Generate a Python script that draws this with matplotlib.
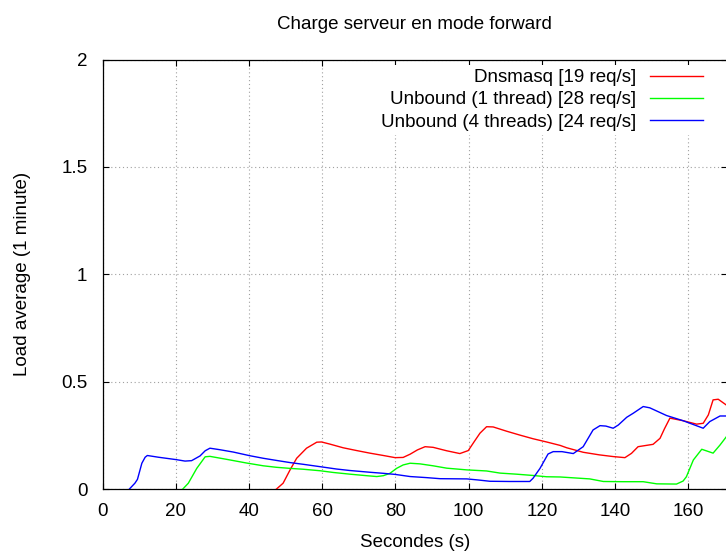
import matplotlib
matplotlib.use("Agg")
import matplotlib.pyplot as plt

plt.rcParams['font.family'] = ['Liberation Sans', 'DejaVu Sans']

# Dnsmasq [19 req/s]
dns_x = [47.5, 49.3, 51.2, 53.0, 55.7, 58.5, 59.8, 62.1, 65.7, 69.4, 73.0, 76.7, 79.9, 82.1, 84.0,
         86.0, 88.1, 90.3, 94.0, 97.6, 99.9, 101.5, 103.1, 104.9, 106.7, 110.4, 114.0, 117.6, 121.3,
         125.0, 126.8, 131.3, 135.7, 139.5, 142.7, 144.5, 146.3, 150.4, 152.3, 153.5, 155.0, 158.6,
         162.3, 164.1, 165.5, 166.8, 168.2, 170.5]
dns_y = [0.0, 0.027, 0.089, 0.143, 0.19, 0.218, 0.219, 0.209, 0.192, 0.179, 0.167, 0.156, 0.146, 0.147,
         0.162, 0.182, 0.197, 0.194, 0.178, 0.165, 0.179, 0.22, 0.26, 0.29, 0.289, 0.269, 0.251, 0.234,
         0.219, 0.203, 0.192, 0.171, 0.159, 0.151, 0.146, 0.166, 0.197, 0.208, 0.236, 0.28, 0.33, 0.318,
         0.302, 0.306, 0.345, 0.415, 0.418, 0.39]

# Unbound (1 thread) [28 req/s]
ub1_x = [21.9, 23.4, 25.7, 28.0, 29.3, 33.9, 39.3, 43.9, 47.5, 51.2, 54.8, 59.4, 63.0, 67.6, 72.1,
         74.9, 76.7, 78.5, 80.3, 82.1, 84.0, 86.7, 90.3, 94.0, 99.5, 104.9, 108.6, 113.1, 117.6, 121.3,
         125.0, 127.7, 133.1, 136.8, 142.2, 147.7, 151.4, 156.8, 158.6, 159.5, 161.4, 163.7, 166.8,
         168.7, 170.5]
ub1_y = [0.0, 0.027, 0.096, 0.15, 0.152, 0.138, 0.121, 0.108, 0.101, 0.096, 0.092, 0.085, 0.077, 0.069,
         0.062, 0.058, 0.062, 0.073, 0.096, 0.112, 0.12, 0.117, 0.108, 0.097, 0.089, 0.084, 0.074, 0.069,
         0.063, 0.057, 0.056, 0.053, 0.047, 0.035, 0.034, 0.034, 0.024, 0.023, 0.037, 0.057, 0.135,
         0.185, 0.167, 0.205, 0.245]

# Unbound (4 threads) [24 req/s]
ub4_x = [7.3, 8.8, 9.5, 10.7, 11.6, 12.2, 15.2, 20.0, 22.5, 24.3, 26.6, 28.0, 29.3, 32.0, 35.7, 40.2,
         43.9, 47.5, 51.2, 54.8, 59.8, 63.9, 67.6, 73.0, 76.7, 79.9, 84.0, 88.5, 92.2, 99.5, 102.6,
         105.8, 111.2, 116.7, 117.6, 119.5, 121.7, 123.1, 125.5, 128.6, 131.3, 134.0, 135.9, 137.5,
         139.5, 140.9, 143.2, 145.0, 147.7, 149.5, 154.1, 158.6, 164.1, 165.9, 168.7, 170.5]
ub4_y = [0.0, 0.027, 0.045, 0.12, 0.148, 0.156, 0.148, 0.137, 0.13, 0.132, 0.154, 0.178, 0.19, 0.183,
         0.172, 0.155, 0.143, 0.133, 0.123, 0.115, 0.103, 0.093, 0.086, 0.078, 0.073, 0.068, 0.058,
         0.053, 0.048, 0.047, 0.042, 0.036, 0.035, 0.035, 0.05, 0.096, 0.163, 0.174, 0.174, 0.165,
         0.197, 0.275, 0.295, 0.293, 0.283, 0.298, 0.334, 0.353, 0.384, 0.378, 0.342, 0.318, 0.283,
         0.314, 0.34, 0.34]

x_ticks = [0, 20, 40, 60, 80, 100, 120, 140, 160]
y_ticks = [0, 0.5, 1, 1.5, 2]
y_tick_labels = ['0', '0.5', '1', '1.5', '2']

FS = 13.5
W, H = 726, 553
fig = plt.figure(figsize=(W / 100, H / 100), dpi=100)
ax = fig.add_axes([102.7 / W, 1 - 489 / H, (727 - 102.7) / W, (489 - 59.5) / H])

ax.plot(dns_x, dns_y, color='#ff0000', lw=1, label='Dnsmasq [19 req/s]', zorder=3)
ax.plot(ub1_x, ub1_y, color='#00ff00', lw=1, label='Unbound (1 thread) [28 req/s]', zorder=3)
ax.plot(ub4_x, ub4_y, color='#0000ff', lw=1, label='Unbound (4 threads) [24 req/s]', zorder=3)

ax.set_xlim(0, 170.6)
ax.set_ylim(0, 2)
ax.set_xticks(x_ticks)
ax.set_yticks(y_ticks)
ax.set_yticklabels(y_tick_labels)
ax.tick_params(direction='in', top=True, right=True, length=4.5, width=0.8,
               labelsize=FS, pad=10, colors='black')
ax.tick_params(axis='y', pad=11)
ax.grid(True, color='#a0a0a0', linestyle=(0, (1, 2.5)), linewidth=0.8, zorder=0)
for s in ax.spines.values():
    s.set_linewidth(0.9)

ax.set_title('Charge serveur en mode forward', fontsize=FS, pad=22)
ax.set_xlabel('Secondes (s)', fontsize=FS, labelpad=10)
ax.set_ylabel('Load average (1 minute)', fontsize=FS, labelpad=22)

leg = ax.legend(loc='upper right', bbox_to_anchor=(708 / W, 1 - 64.5 / H),
                bbox_transform=fig.transFigure, markerfirst=False, fontsize=FS,
                frameon=True, framealpha=1, edgecolor='none', fancybox=False,
                borderpad=0.25, labelspacing=0.27, handlelength=2.85, handletextpad=0.75,
                borderaxespad=0)
leg.set_zorder(5)

fig.savefig('out.png', dpi=100)
